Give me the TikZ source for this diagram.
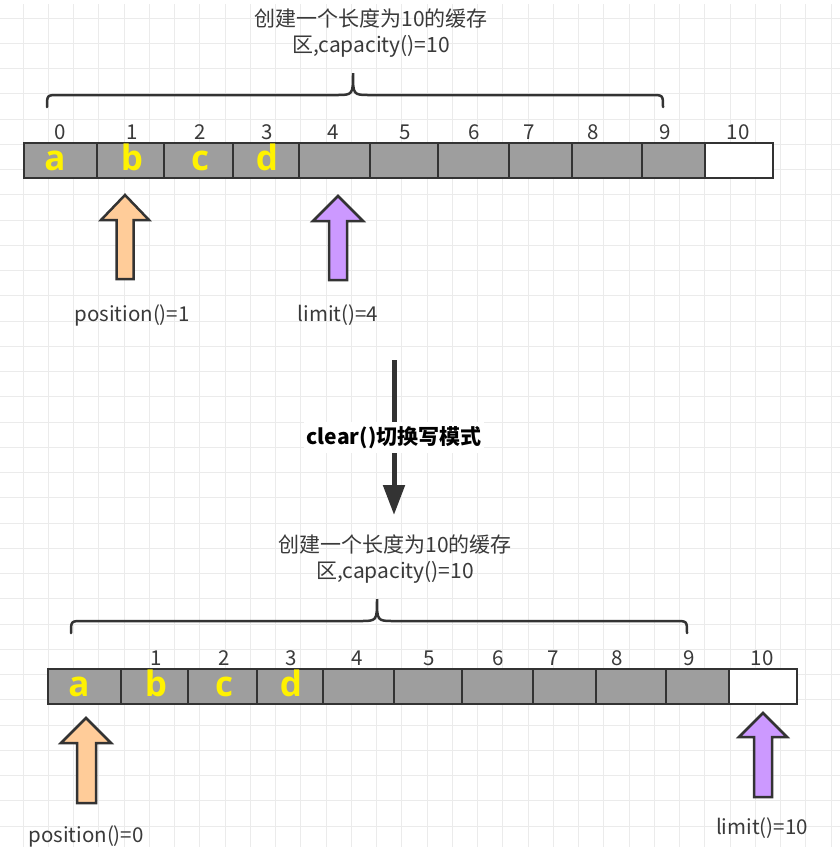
\documentclass[tikz,border=0pt]{standalone}
\usepackage{fontspec}
\setmainfont{Noto Sans CJK SC}
\newfontfamily\letterfont{Open Sans}
\usetikzlibrary{arrows.meta}
\definecolor{gridc}{HTML}{EBEBEB}
\definecolor{linec}{HTML}{333333}
\definecolor{textc}{HTML}{3A3A3A}
\definecolor{cellc}{HTML}{9E9E9E}
\definecolor{posc}{HTML}{FFCC99}
\definecolor{limc}{HTML}{CC99FF}
\tikzset{
  gridline/.style = {draw = gridc, line width = 1pt},
  cellbox/.style = {draw = linec, line width = 2.5pt, fill = cellc},
  idx/.style = {text = textc, font = \fontsize{20.5}{24}\selectfont, inner sep = 0pt},
  letter/.style = {text = yellow, font = \letterfont\bfseries\fontsize{35}{38}\selectfont, inner sep = 0pt, anchor = base},
  caption/.style = {text = textc, font = \fontsize{21}{26}\selectfont, align = center, inner sep = 0pt},
  brace/.style = {draw = linec, line width = 2.5pt, line cap = round},
  ptr/.style = {draw = linec, line width = 2.5pt, line join = miter},
  bigarrow/.style = {draw = linec, line width = 5pt, -{Triangle[width = 21pt, length = 30pt]}},
}
\begin{document}
\begin{tikzpicture}[x = 1pt, y = -1pt]
	\useasboundingbox (0,0) rectangle (840,847);
	\fill[white] (0,0) rectangle (840,847);
	% background grid
	\foreach \k in {0,...,32} {
		\draw[gridline] ({23+25.25*\k},4) -- ({23+25.25*\k},847);
		\draw[gridline] (0,{18+25.25*\k}) -- (840,{18+25.25*\k});
	}
	% buffer before clear()
	\node[caption] (title1) at (371,33) {创建一个长度为10的缓存\\区,capacity()=10};
	\draw[brace] (47,107) .. controls (47,95) .. (59,95) -- (336,95) .. controls (353,95) .. (353,73) .. controls (353,95) .. (370,95) -- (651,95) .. controls (663,95) .. (663,107);
	\foreach \l/\r in {24/97,97/164,164/233,233/299,299/370,370/438,438/509,509/572,572/642,642/705}
		\draw[cellbox] (\l,143) rectangle (\r,178);
	\draw[cellbox, fill = white] (705,143) rectangle (773,178);
	\foreach \x/\n in {60/0,132/1,200/2,267/3,333/4,405/5,474/6,529/7,593/8,665/9,738/10}
		\node[idx] (t-idx\n) at (\x,132) {\n};
	\foreach \x/\c in {55/a,132/b,200/c,267/d}
		\node[letter] (t-\c) at (\x,170) {\c};
	\draw[ptr, fill = posc] (125,195) -- (149,220) -- (133.5,220) -- (133.5,279) -- (116.5,279) -- (116.5,220) -- (101,220) -- cycle;
	\draw[ptr, fill = limc] (338,196) -- (363,221) -- (347,221) -- (347,280) -- (329,280) -- (329,221) -- (313,221) -- cycle;
	\node[idx] (t-pos) at (132,315) {position()=1};
	\node[idx] (t-lim) at (338,315) {limit()=4};
	% clear()
	\coordinate (clrtop) at (394,360);
	\coordinate (clrbot) at (394,515);
	\draw[bigarrow] (clrtop) -- (clrbot) node[midway, fill = white, text = black, inner xsep = 3pt, inner ysep = 4pt, font = \bfseries\fontsize{21}{24}\selectfont] (clrlabel) {clear()切换写模式};
	% buffer after clear()
	\begin{scope}[shift = {(24,526)}]
		\node[caption] (title2) at (371,33) {创建一个长度为10的缓存\\区,capacity()=10};
		\draw[brace] (47,107) .. controls (47,95) .. (59,95) -- (336,95) .. controls (353,95) .. (353,73) .. controls (353,95) .. (370,95) -- (651,95) .. controls (663,95) .. (663,107);
		\foreach \l/\r in {24/97,97/164,164/233,233/299,299/370,370/438,438/509,509/572,572/642,642/705}
			\draw[cellbox] (\l,143) rectangle (\r,178);
		\draw[cellbox, fill = white] (705,143) rectangle (773,178);
		\foreach \x/\n in {132/1,200/2,267/3,333/4,405/5,474/6,529/7,593/8,665/9,738/10}
			\node[idx] (b-idx\n) at (\x,132) {\n};
		\foreach \x/\c in {55/a,132/b,200/c,267/d}
			\node[letter] (b-\c) at (\x,170) {\c};
	\end{scope}
	\draw[ptr, fill = posc] (86,718) -- (111,743) -- (96,743) -- (96,803) -- (77,803) -- (77,743) -- (61,743) -- cycle;
	\draw[ptr, fill = limc] (763,713) -- (787,737) -- (772,737) -- (772,797) -- (754,797) -- (754,737) -- (739,737) -- cycle;
	\node[idx] (b-pos) at (86,836) {position()=0};
	\node[idx] (b-lim) at (762,828) {limit()=10};
\end{tikzpicture}
\end{document}
